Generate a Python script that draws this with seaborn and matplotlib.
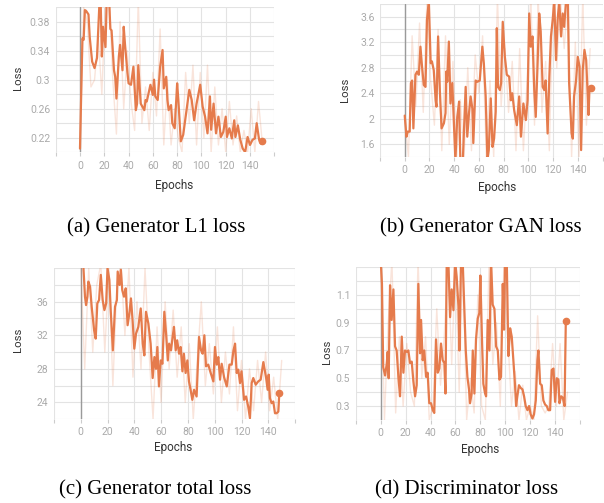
import numpy as np
import matplotlib
matplotlib.use("Agg")
import matplotlib.pyplot as plt
import seaborn as sns

# smoothed curves (epoch, loss)
ep_a = [0, 2, 3, 4, 5, 7, 8, 10, 12, 14, 16, 17, 18, 19, 21, 22, 24, 25, 26, 28, 29, 30, 32, 33,
        35, 36, 37, 39, 40, 42, 44, 46, 47, 48, 50, 53, 54, 55, 58, 60, 61, 62, 64, 66, 68, 69,
        71, 72, 73, 75, 76, 78, 80, 81, 83, 85, 87, 90, 92, 94, 96, 99, 101, 103, 105, 107, 108,
        110, 112, 114, 116, 118, 120, 121, 123, 125, 127, 128, 130, 132, 134, 136, 138, 140, 142,
        144, 145.5, 147.5, 149, 150]
loss_a = [0.205, 0.357, 0.355, 0.396, 0.395, 0.39, 0.359, 0.325, 0.316, 0.33, 0.405, 0.41, 0.332,
          0.373, 0.345, 0.41, 0.41, 0.37, 0.368, 0.313, 0.304, 0.274, 0.332, 0.348, 0.313, 0.373,
          0.35, 0.311, 0.295, 0.293, 0.318, 0.258, 0.267, 0.32, 0.267, 0.258, 0.272, 0.27, 0.293,
          0.279, 0.30, 0.277, 0.272, 0.318, 0.341, 0.288, 0.304, 0.272, 0.258, 0.265, 0.24, 0.233,
          0.295, 0.272, 0.215, 0.224, 0.249, 0.286, 0.272, 0.244, 0.267, 0.293, 0.263, 0.249, 0.226,
          0.277, 0.231, 0.267, 0.226, 0.249, 0.221, 0.228, 0.249, 0.221, 0.233, 0.219, 0.244, 0.221,
          0.237, 0.217, 0.205, 0.20, 0.221, 0.21, 0.217, 0.219, 0.24, 0.217, 0.212, 0.215]

ep_b = [0, 1.4, 2.5, 4, 5, 6, 7, 8.7, 10, 11.4, 12.7, 14, 15.4, 16.8, 18, 19.5, 21, 22, 23.5, 25,
        25.7, 27, 28.4, 29.8, 31.7, 33, 33.6, 34.4, 35.7, 37, 38.5, 40, 41, 42.5, 44, 45, 47, 49.3,
        50.6, 52, 53.3, 54.7, 55.5, 57.4, 58.8, 60.7, 62.8, 64, 65.5, 66.9, 68, 69.6, 71, 72.3,
        73.6, 74.5, 75.5, 77, 78, 79.3, 81, 82.6, 84.5, 85.8, 87, 88.5, 90.7, 92.6, 94, 96, 98,
        99.4, 100.7, 102, 103.4, 104.8, 106, 107.5, 108.8, 110, 111.6, 112.9, 114, 115.6, 117,
        118.3, 119.7, 121, 122.4, 123.7, 125, 126.5, 127.8, 129, 130.5, 132, 133, 135, 136, 137,
        138.6, 140, 141.4, 142.7, 144, 145.4, 146.8, 148.7, 149.5, 150.8]
loss_b = [2.05, 1.72, 1.80, 1.80, 2.56, 2.60, 1.85, 2.69, 2.74, 2.69, 3.13, 2.82, 2.53, 2.50, 3.55,
          3.85, 2.87, 2.90, 2.76, 2.29, 2.19, 3.29, 2.45, 1.85, 1.93, 2.09, 2.74, 2.58, 3.21, 2.24,
          2.56, 1.82, 1.35, 2.03, 2.27, 1.35, 1.35, 2.50, 1.72, 2.09, 2.35, 2.16, 1.62, 2.60, 2.58,
          2.60, 3.13, 2.87, 2.35, 1.35, 1.51, 2.32, 1.56, 1.69, 2.11, 3.42, 2.50, 2.45, 2.56, 3.52,
          2.97, 2.69, 2.66, 2.29, 2.40, 2.14, 1.90, 2.35, 1.72, 2.24, 1.98, 2.29, 3.65, 3.13, 3.29,
          2.45, 2.03, 2.87, 3.65, 3.37, 2.50, 2.45, 2.60, 1.77, 2.66, 3.29, 3.55, 3.85, 2.92, 3.55,
          3.85, 3.29, 3.65, 3.44, 3.85, 3.85, 2.56, 1.77, 1.69, 2.35, 2.60, 2.97, 2.82, 1.51, 2.76,
          3.08, 2.92, 2.06, 2.50, 2.49]

ep_c = [0, 2, 3.2, 4, 5, 5.7, 7, 8.2, 10, 11.2, 12.4, 13.7, 15, 16.4, 17.7, 19, 20, 21.4, 22.4, 24,
        25.6, 27, 27.6, 29, 30, 31, 32.3, 33.6, 35, 36.3, 37.5, 38.8, 40, 41.3, 43, 44.8, 46.3,
        47.5, 48.7, 50.5, 52.2, 53.7, 55, 56.2, 57.2, 58.4, 59.7, 61, 62.4, 63.7, 65, 66, 67.4,
        68.6, 69.6, 70.9, 72, 73.4, 74.6, 75.9, 77, 78.3, 79.6, 80.8, 82, 83.3, 84.6, 86.5, 88.3,
        89.8, 91, 92.3, 93.5, 95.2, 97, 99, 100.2, 101.5, 102.7, 104, 105.2, 107, 109, 111, 112.7,
        114, 115.2, 116.4, 117.6, 118.9, 120, 121.9, 123.4, 125, 126.3, 127.6, 128.8, 130.6, 132.5,
        134.3, 136.3, 138.3, 139.5, 140.3, 141.2, 142.5, 143.7, 145, 146.2, 147.5, 148.2]
loss_c = [40.5, 40.2, 36.6, 35.6, 36.6, 38.4, 37.8, 35.4, 32.6, 31.6, 35.8, 36.2, 39.2, 36.2, 35.0,
          35.8, 40.0, 38.6, 35.0, 30.2, 35.4, 36.2, 39.6, 38.0, 39.8, 37.4, 36.6, 37.6, 33.2, 34.6,
          36.4, 33.6, 30.4, 32.2, 33.0, 35.2, 31.0, 29.6, 34.8, 33.4, 31.0, 26.9, 29.4, 28.0, 30.6,
          25.9, 29.0, 28.6, 34.8, 32.2, 29.0, 31.0, 30.2, 31.8, 33.0, 30.2, 31.4, 29.8, 30.6, 27.7,
          29.8, 27.5, 29.0, 26.5, 25.5, 24.3, 25.5, 24.7, 31.8, 30.2, 29.8, 32.0, 28.3, 28.5, 27.5,
          26.5, 30.6, 28.5, 29.4, 26.7, 28.6, 27.0, 25.9, 28.5, 28.5, 30.2, 31.0, 27.5, 27.9, 26.3,
          27.7, 24.3, 24.7, 23.5, 22.1, 26.3, 26.9, 26.1, 26.5, 26.7, 28.8, 27.0, 25.5, 27.3, 24.5,
          23.9, 24.1, 22.7, 22.7, 22.9, 25.1]

ep_d = [0, 1, 2, 3.5, 4.8, 5.6, 6.4, 7.5, 8.8, 10.2, 11.5, 12.8, 14.2, 15.5, 16.9, 18.2, 19.5, 20.9,
        22.2, 23.5, 24.9, 26.2, 27.6, 28.9, 30.2, 31.6, 32.4, 33.7, 35, 36.4, 37.7, 39, 40.4, 41.8,
        43, 44.4, 45.8, 47.1, 48.4, 49.8, 51.1, 52, 53, 54.3, 55.7, 57, 58.4, 59.7, 61, 62.4, 63.2,
        64.5, 65.8, 66.9, 68.3, 69.6, 70.9, 71.7, 73, 73.9, 75.2, 76.5, 77.9, 79.2, 80, 81.4, 82.4,
        83.8, 84.6, 85.9, 87.3, 88.6, 89.9, 91.3, 92.6, 94, 95.3, 96.6, 98, 99, 99.8, 101.2, 102.5,
        103.9, 105.2, 106.5, 107.9, 108.7, 109.7, 111, 112.4, 113.8, 115.1, 116.4, 117.8, 119.1,
        120.4, 121.8, 123.1, 124.5, 125.8, 126.6, 128, 129.3, 130.6, 132, 133.3, 134.6, 136, 137.3,
        138.7, 140, 141.3, 142.7, 143.5, 144.9, 146.2, 147.6, 148.6]
loss_d = [1.35, 1.18, 0.58, 0.52, 0.60, 0.69, 0.50, 1.17, 0.92, 1.14, 0.73, 0.70, 0.51, 0.37, 0.80,
          0.54, 0.70, 0.69, 0.70, 0.61, 0.62, 0.48, 0.37, 0.45, 1.18, 0.68, 0.92, 0.63, 0.70, 0.51,
          0.54, 0.32, 0.32, 0.27, 0.25, 0.78, 0.54, 0.57, 0.75, 0.63, 0.61, 0.39, 1.35, 1.35, 0.94,
          1.14, 0.99, 1.35, 1.23, 1.02, 0.70, 1.35, 1.35, 1.06, 0.70, 0.51, 0.42, 0.32, 0.39, 0.70,
          0.39, 0.78, 0.93, 0.97, 1.24, 0.75, 0.46, 0.39, 0.37, 0.92, 0.70, 1.35, 1.03, 1.00, 0.73,
          0.70, 0.49, 0.51, 1.18, 0.85, 1.35, 1.35, 0.66, 0.86, 0.80, 0.63, 0.44, 0.30, 0.37, 0.45,
          0.43, 0.42, 0.37, 0.30, 0.27, 0.30, 0.24, 0.21, 0.24, 0.34, 0.63, 0.70, 0.46, 0.45, 0.34,
          0.31, 0.30, 0.27, 0.27, 0.56, 0.57, 0.33, 0.50, 0.49, 0.32, 0.37, 0.36, 0.30, 0.91]

# raw (unsmoothed) values, drawn faintly behind
raw_ep = list(range(0, 151, 3))
raw_a = [0.205, 0.40, 0.38, 0.29, 0.30, 0.36, 0.28, 0.41, 0.42, 0.30, 0.225, 0.38, 0.26, 0.34, 0.27,
         0.23, 0.41, 0.24, 0.29, 0.23, 0.31, 0.25, 0.37, 0.21, 0.30, 0.21, 0.26, 0.22, 0.20, 0.31,
         0.24, 0.32, 0.21, 0.31, 0.22, 0.32, 0.20, 0.29, 0.21, 0.26, 0.20, 0.27, 0.21, 0.25, 0.20,
         0.23, 0.20, 0.26, 0.20, 0.27, 0.215]
raw_b = [2.05, 1.4, 3.3, 2.2, 3.5, 2.1, 3.9, 2.6, 1.9, 3.4, 1.5, 3.3, 1.6, 2.9, 1.4, 2.3, 1.4, 2.8,
         1.5, 3.0, 2.4, 3.3, 1.4, 2.6, 1.4, 3.9, 2.2, 3.1, 2.1, 2.9, 1.5, 3.1, 1.5, 2.6, 3.9, 1.9,
         3.9, 2.1, 2.9, 1.5, 3.9, 2.8, 3.9, 3.1, 3.9, 1.4, 3.2, 1.4, 3.9, 1.9, 3.1]
raw_c = [40.5, 28, 40, 30, 38, 40.5, 30, 40, 26, 38, 40.5, 32, 40, 27, 36, 28, 40, 30, 22, 33, 24,
         36, 28, 35, 27, 33, 24, 31, 22, 29, 36, 26, 31, 25, 33, 24, 30, 25, 33, 23, 29, 22, 28, 23,
         29, 24, 30, 23, 27, 22, 29]
raw_d = [1.35, 0.2, 0.9, 1.35, 0.25, 0.8, 0.3, 0.75, 0.4, 0.3, 1.35, 0.5, 0.8, 0.2, 0.3, 1.0, 0.45,
         0.8, 1.35, 0.6, 1.35, 0.4, 1.35, 0.2, 0.5, 0.25, 1.1, 0.3, 0.2, 1.35, 0.6, 0.9, 0.3, 1.35,
         0.8, 0.3, 0.55, 0.2, 0.45, 0.2, 0.3, 0.2, 0.95, 0.3, 0.25, 0.3, 0.75, 0.3, 0.75, 0.2, 0.4]

captions = ["(a) Generator L1 loss", "(b) Generator GAN loss",
            "(c) Generator total loss", "(d) Discriminator loss"]

sns.set_style("whitegrid")
plt.rcParams["font.family"] = ["Roboto", "DejaVu Sans"]

W, H = 604, 503
fig = plt.figure(figsize=(W / 100, H / 100), dpi=100)
orange = "#e57b4c"


def px_axes(l, t, r, b):
    return fig.add_axes([l / W, 1 - b / H, (r - l) / W, (b - t) / H])


panels = [
    dict(box=(55.7, 7.2, 274.3, 152.2), ep=ep_a, loss=loss_a, raw=raw_a, ylim=(0.2, 0.4),
         major=[0.22, 0.26, 0.30, 0.34, 0.38], labels=["0.22", "0.26", "0.3", "0.34", "0.38"],
         step=0.02, loss_pos=(18, 78), ep_pos=(174, 185)),
    dict(box=(380, 3.9, 602.5, 157.1), ep=ep_b, loss=loss_b, raw=raw_b, ylim=(1.4, 3.8),
         major=[1.6, 2.0, 2.4, 2.8, 3.2, 3.6], labels=["1.6", "2", "2.4", "2.8", "3.2", "3.6"],
         step=0.2, loss_pos=(345, 90), ep_pos=(497, 187)),
    dict(box=(53.9, 268.2, 295.1, 419.1), ep=ep_c, loss=loss_c, raw=raw_c, ylim=(22, 40),
         major=[24, 28, 32, 36], labels=["24", "28", "32", "36"],
         step=2, loss_pos=(18, 340), ep_pos=(173, 448)),
    dict(box=(355.8, 267.2, 580, 419.9), ep=ep_d, loss=loss_d, raw=raw_d, ylim=(0.2, 1.3),
         major=[0.3, 0.5, 0.7, 0.9, 1.1], labels=["0.3", "0.5", "0.7", "0.9", "1.1"],
         step=0.1, loss_pos=(327, 352), ep_pos=(480, 450)),
]

for p in panels:
    ax = px_axes(*p["box"])
    ax.axvline(0, color="#9a9a9a", lw=1.0, zorder=1)
    sns.lineplot(x=raw_ep, y=p["raw"], ax=ax, color=orange, alpha=0.2, lw=1.0, sort=False)
    sns.lineplot(x=p["ep"], y=p["loss"], ax=ax, color=orange, lw=1.6, sort=False)
    ax.plot(p["ep"][-1], p["loss"][-1], "o", color=orange, ms=4.5)

    ax.set_xlim(-20, 160)
    ax.set_ylim(*p["ylim"])
    xt = list(range(-20, 161, 20))
    ax.set_xticks(xt)
    ax.set_xticklabels(["" if v in (-20, 160) else str(v) for v in xt])
    ax.set_yticks(p["major"])
    ax.set_yticklabels(p["labels"])
    lo, hi = p["ylim"]
    minor = np.arange(lo, hi + 1e-9, p["step"])
    ax.set_yticks(minor, minor=True)
    ax.grid(True, which="both", color="#e3e3e3", lw=0.8)
    ax.set_axisbelow(True)
    for s in ax.spines.values():
        s.set_visible(False)
    ax.tick_params(axis="x", length=3, color="#cccccc", labelsize=7.5, pad=3, bottom=True,
                   labelcolor="#aaaaaa")
    ax.tick_params(axis="y", which="both", length=0, labelsize=7.5, labelcolor="#aaaaaa", pad=4)

    l, t, r, b = p["box"]
    lx, ly = p["loss_pos"]
    ex, ey = p["ep_pos"]
    ax.set_ylabel("Loss", fontsize=8.2, color="#333333")
    ax.yaxis.label.set_va("center")
    ax.yaxis.set_label_coords((lx - l) / (r - l), (b - ly) / (b - t))
    ax.set_xlabel("Epochs", fontsize=8.5, color="#333333")
    ax.xaxis.label.set_va("center")
    ax.xaxis.set_label_coords((ex - l) / (r - l), (b - ey) / (b - t))

cap_pos = [(156, 228), (481, 228), (155, 490), (467, 490)]
for text, (cx, cy) in zip(captions, cap_pos):
    fig.text(cx / W, 1 - cy / H, text, ha="center", va="center",
             family="Liberation Serif", fontsize=15, color="black")

fig.savefig("out.png", dpi=100)
